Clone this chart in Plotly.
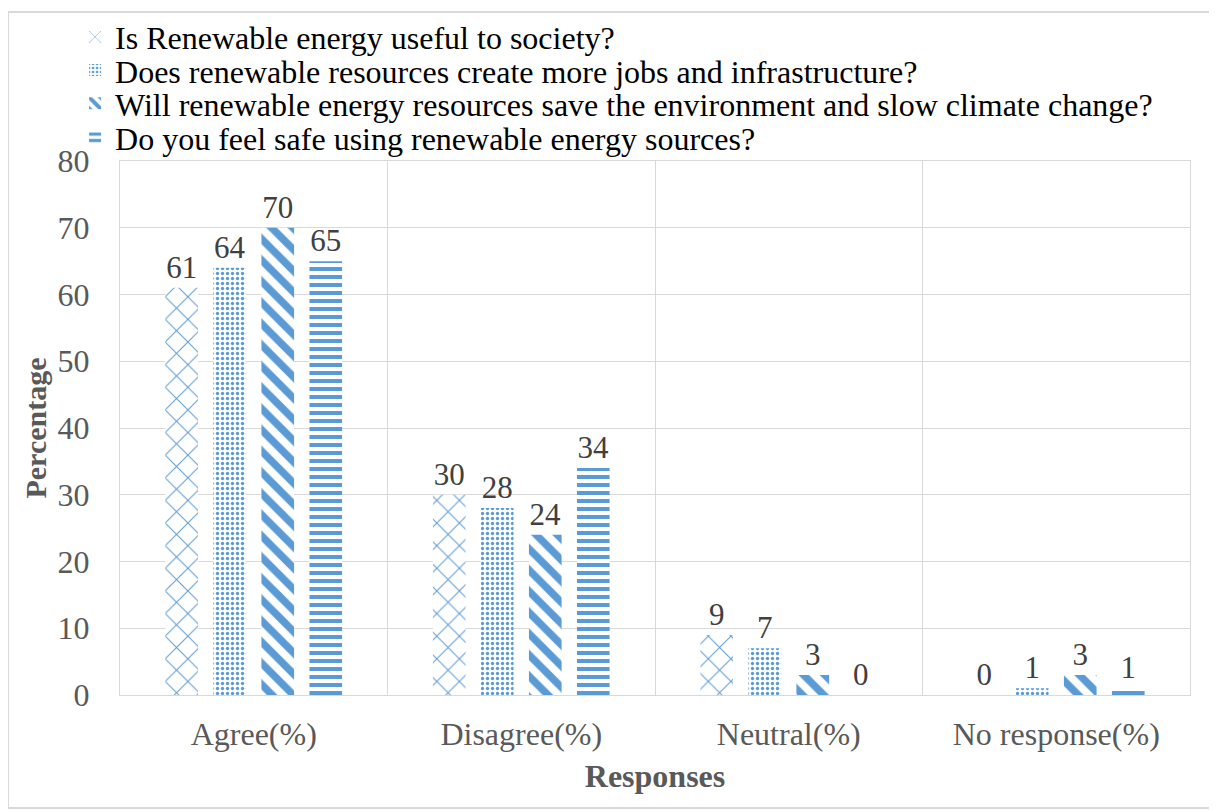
import plotly.graph_objects as go

categories = ["Agree(%)", "Disagree(%)", "Neutral(%)", "No response(%)"]
series_names = [
    "Is Renewable energy useful to society?",
    "Does renewable resources create more jobs and infrastructure?",
    "Will renewable energy resources save the environment and slow climate change?",
    "Do you feel safe using renewable energy sources?",
]
useful = [61, 30, 9, 0]
jobs = [64, 28, 7, 1]
environment = [70, 24, 3, 3]
safe = [65, 34, 0, 1]
y_ticks = [0, 10, 20, 30, 40, 50, 60, 70, 80]

series_values = [useful, jobs, environment, safe]
patterns = [
    dict(shape="x", size=16, solidity=0.12),
    dict(shape=".", size=5, solidity=0.35),
    dict(shape="\\", size=15, solidity=0.5),
    dict(shape="-", size=8, solidity=0.5),
]
legend_ids = ["legend", "legend2", "legend3", "legend4"]
legend_y = [1.232, 1.170, 1.108, 1.044]

BLUE = "#5B9BD5"
SERIF = "Liberation Serif"

fig = go.Figure()
for name, vals, pat, lid in zip(series_names, series_values, patterns, legend_ids):
    fig.add_trace(go.Bar(
        x=categories, y=vals, name=name, legend=lid,
        text=[str(v) for v in vals], textposition="outside",
        textfont=dict(family=SERIF, size=31, color="#404040"),
        cliponaxis=False,
        marker=dict(
            color="white",
            line=dict(width=0),
            pattern=dict(fgcolor=BLUE, bgcolor="white", fillmode="replace", **pat),
        ),
    ))

legend_common = dict(
    x=-0.042, xanchor="left", yanchor="middle",
    font=dict(family=SERIF, size=32, color="black"),
    bgcolor="rgba(0,0,0,0)", itemwidth=30, tracegroupgap=0,
)

fig.update_layout(
    width=1217, height=810,
    paper_bgcolor="white", plot_bgcolor="white",
    margin=dict(l=112, r=35, t=153, b=123, autoexpand=False),
    barmode="group", bargap=0.282, bargroupgap=0.32,
    font=dict(family=SERIF, size=32, color="#595959"),
    uniformtext=dict(minsize=31, mode="show"),
    showlegend=True,
    xaxis=dict(
        type="category", tickson="boundaries", showgrid=True,
        gridcolor="#d9d9d9", gridwidth=1,
        showline=True, linecolor="#d9d9d9", mirror=True,
        ticks="", tickangle=0, ticklabelstandoff=11,
        tickfont=dict(family=SERIF, size=32, color="#595959"),
        title=dict(text="<b>Responses</b>", font=dict(family=SERIF, size=32, color="#595959"), standoff=13),
    ),
    yaxis=dict(
        range=[0, 80], tickvals=y_ticks, showgrid=True,
        gridcolor="#d9d9d9", gridwidth=1, zeroline=False,
        showline=True, linecolor="#d9d9d9", mirror=True,
        ticks="", ticklabelstandoff=23,
        tickfont=dict(family=SERIF, size=32, color="#595959"),
        title=dict(text="<b>Percentage</b>", font=dict(family=SERIF, size=30, color="#595959"), standoff=2),
    ),
)
for lid, ly in zip(legend_ids, legend_y):
    fig.update_layout({lid: dict(y=ly, **legend_common)})

fig.add_shape(
    type="rect", xref="paper", yref="paper",
    x0=-0.1047, x1=1.0234, y0=-0.2116, y1=1.279,
    line=dict(color="#d9d9d9", width=2), fillcolor="rgba(0,0,0,0)", layer="below",
)

fig.write_html("out.html")
